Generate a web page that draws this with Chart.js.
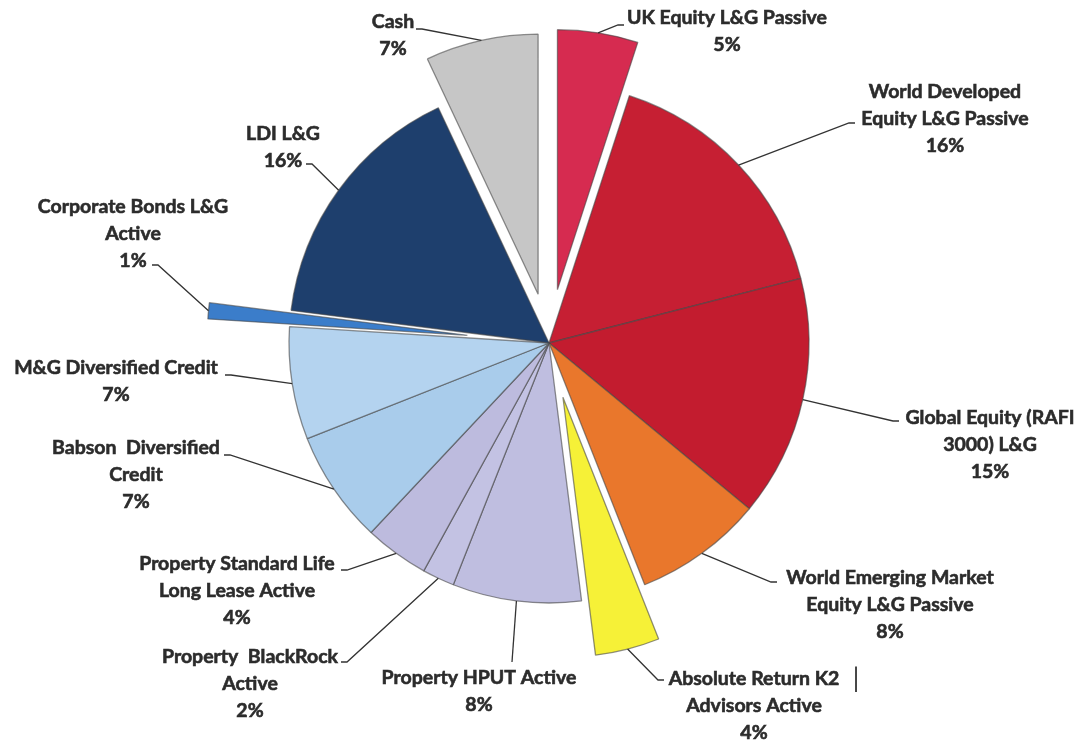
<!DOCTYPE html>
<html><head><meta charset="utf-8">
<script src="https://cdn.jsdelivr.net/npm/chart.js@4.4.1/dist/chart.umd.min.js"></script>
<style>html,body{margin:0;padding:0;background:#fff;} #wrap{width:1085px;height:742px;position:relative;}</style>
</head><body><div id="wrap"><canvas id="c" width="1085" height="742"></canvas></div>
<script>
// ---- data ----
const categories = ["UK Equity L&G Passive","World Developed Equity L&G Passive","Global Equity (RAFI 3000) L&G","World Emerging Market Equity L&G Passive","Absolute Return K2 Advisors Active","Property HPUT Active","Property BlackRock Active","Property Standard Life Long Lease Active","Babson Diversified Credit","M&G Diversified Credit","Corporate Bonds L&G Active","LDI L&G","Cash"];
const shares = [5,16,15,8,4,8,2,4,7,7,1,16,7];
const labelLines = [
  ["UK Equity L&G Passive"],
  ["World Developed","Equity L&G Passive"],
  ["Global Equity (RAFI","3000) L&G"],
  ["World Emerging Market","Equity L&G Passive"],
  ["Absolute Return K2","Advisors Active"],
  ["Property HPUT Active"],
  ["Property  BlackRock","Active"],
  ["Property Standard Life","Long Lease Active"],
  ["Babson  Diversified","Credit"],
  ["M&G Diversified Credit"],
  ["Corporate Bonds L&G","Active"],
  ["LDI L&G"],
  ["Cash"]
];

// ---- styles / layout ----
const colors = ["#D62B50","#C61F33","#C31C2F","#E9772C","#F6F137","#BFBEE0","#C3C2E3","#BDBBDE","#A9CCEB","#B4D3EF","#3B7DCA","#1E3F6D","#C6C6C6"];
const explodePx = [54,0,0,0,56,0,0,0,0,0,82,0,50];
// label block: centre x, first line centre y, leader end point
const labelPos = [
  {x:727,y:18,ex:624,ey:25},
  {x:945,y:92,ex:855,ey:123},
  {x:990,y:418,ex:899,ey:421},
  {x:890,y:578,ex:777,ey:582},
  {x:754,y:679,ex:664,ey:680},
  {x:479,y:678,ex:512,ey:662},
  {x:250,y:657,ex:341,ey:662},
  {x:237,y:564,ex:341,ey:570},
  {x:136,y:448,ex:224,ey:455},
  {x:116,y:368,ex:225,ey:375},
  {x:133,y:207,ex:152,ey:265},
  {x:283,y:134,ex:306,ey:164},
  {x:393,y:22,ex:416,ey:29}
];
const lineStep = 26.7;

const explodePlugin = {
  id:'explode',
  afterDatasetsUpdate(chart){
    const meta = chart.getDatasetMeta(0);
    meta.data.forEach((arc,i)=>{
      const d = explodePx[i]; if(!d) return;
      const mid = (arc.startAngle+arc.endAngle)/2;
      arc.x += Math.cos(mid)*d; arc.y += Math.sin(mid)*d;
    });
  }
};

const labelPlugin = {
  id:'labels',
  afterDraw(chart){
    const ctx = chart.ctx;
    const meta = chart.getDatasetMeta(0);
    ctx.save();
    meta.data.forEach((arc,i)=>{
      const p = labelPos[i];
      const mid = (arc.startAngle+arc.endAngle)/2;
      const R = arc.outerRadius;
      const sx = arc.x + Math.cos(mid)*R, sy = arc.y + Math.sin(mid)*R;
      const dir = p.ex > sx ? -1 : 1;
      const elx = Math.abs(p.ex - sx) > 12 ? p.ex + dir*6 : p.ex;
      ctx.strokeStyle = '#333';
      ctx.lineWidth = 1.3;
      ctx.beginPath();
      ctx.moveTo(sx, sy);
      ctx.lineTo(elx, p.ey);
      ctx.lineTo(p.ex, p.ey);
      ctx.stroke();
      const lines = labelLines[i].concat([shares[i] + '%']);
      ctx.fillStyle = '#2c2c2c';
      ctx.strokeStyle = '#2c2c2c';
      ctx.lineWidth = 0.6;
      ctx.font = 'bold 19.5px Lato';
      ctx.textAlign = 'center';
      ctx.textBaseline = 'middle';
      lines.forEach((t,k)=> { ctx.fillText(t, p.x, p.y + k*lineStep); ctx.strokeText(t, p.x, p.y + k*lineStep); });
    });
    ctx.font = '26px Lato';
    ctx.fillStyle = '#333';
    ctx.fillText('|', 856, 679);
    ctx.restore();
  }
};

new Chart(document.getElementById('c'), {
  type:'pie',
  data:{ labels:categories, datasets:[{ data:shares, backgroundColor:colors,
    borderColor:'rgba(70,70,70,0.6)', borderWidth:1.3 }]},
  options:{
    responsive:false, animation:false, events:[],
    radius:260,
    layout:{padding:{left:13,right:0,top:0,bottom:56}},
    plugins:{legend:{display:false}, tooltip:{enabled:false}}
  },
  plugins:[explodePlugin,labelPlugin]
});
</script>
</body></html>
